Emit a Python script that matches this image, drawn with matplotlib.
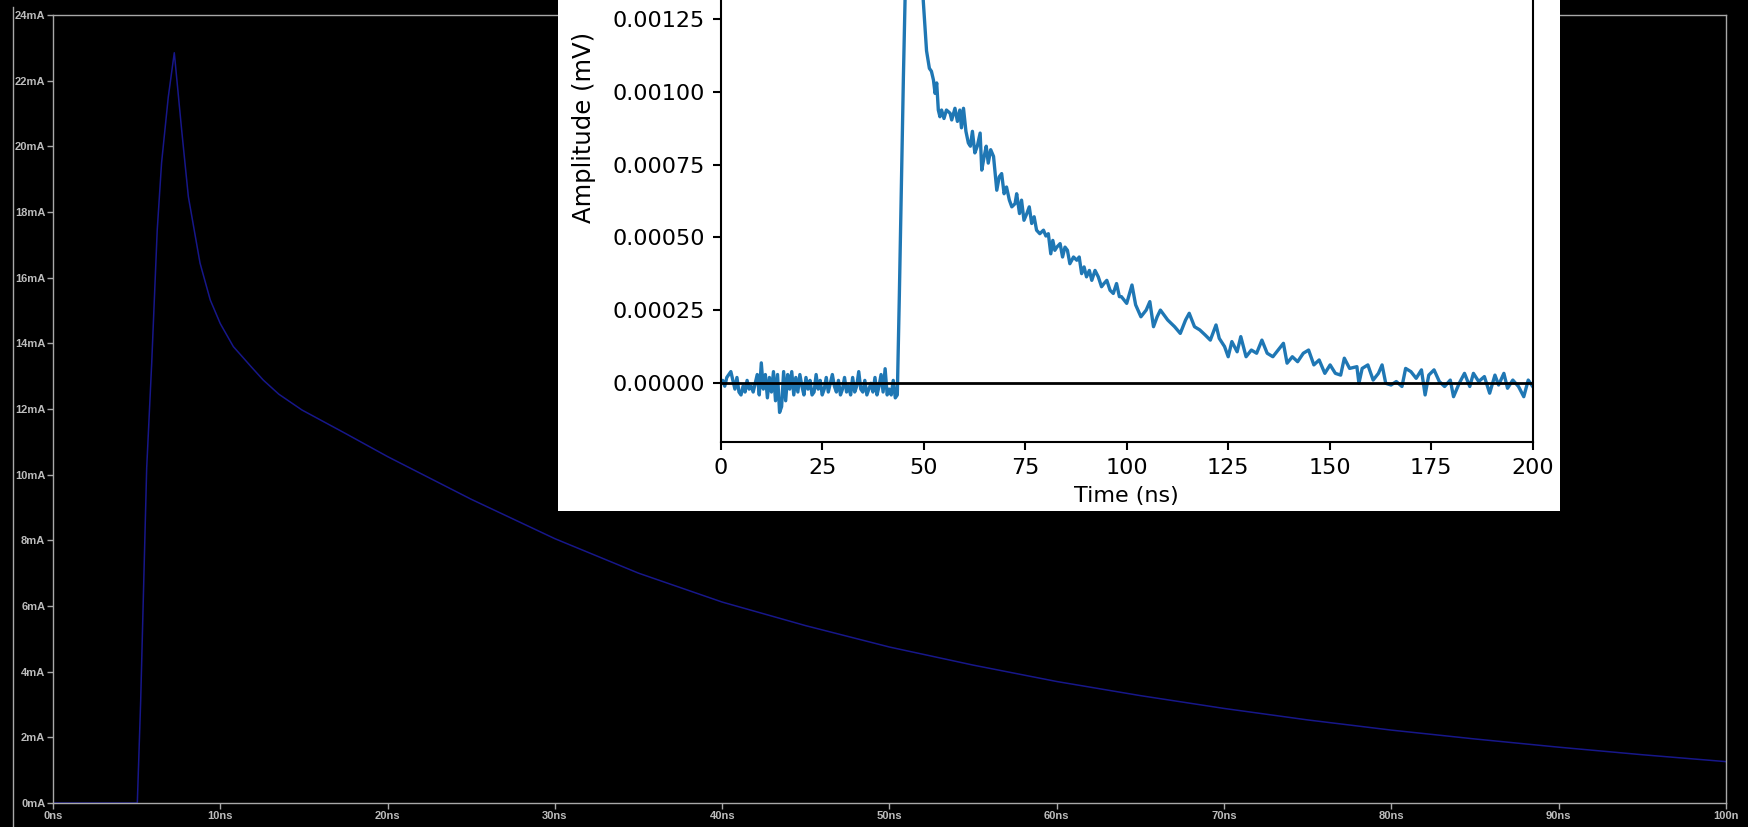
import numpy as np
import matplotlib
matplotlib.use("Agg")
import matplotlib.pyplot as plt
from matplotlib.patches import Rectangle
from matplotlib.lines import Line2D
from matplotlib.ticker import FormatStrFormatter

# simulated current pulse (LTspice style trace)
main_t = [0, 5.04, 5.24, 5.6, 5.9, 6.23, 6.49, 6.89, 7.25, 7.69, 8.09, 8.79, 9.4, 10.0,
          10.78, 11.84, 12.57, 13.5, 14.88, 17.5, 20, 25, 30, 35, 40, 45, 50, 55,
          60, 65, 70, 75, 80, 85, 90, 95, 100]
main_i = [0, 0, 3.1, 10.2, 13.4, 17.45, 19.5, 21.5, 22.85, 20.5, 18.47, 16.44, 15.32, 14.6,
          13.9, 13.29, 12.88, 12.45, 11.97, 11.25, 10.55, 9.25, 8.05, 7.0, 6.12, 5.4, 4.75, 4.2,
          3.7, 3.27, 2.88, 2.53, 2.22, 1.95, 1.7, 1.47, 1.26]
main_xticks = [0, 10, 20, 30, 40, 50, 60, 70, 80, 90, 100]
main_xlabels = ["0ns", "10ns", "20ns", "30ns", "40ns", "50ns", "60ns", "70ns", "80ns", "90ns", "100n"]
main_yticks = [0, 2, 4, 6, 8, 10, 12, 14, 16, 18, 20, 22, 24]
main_ylabels = ["0mA", "2mA", "4mA", "6mA", "8mA", "10mA", "12mA", "14mA", "16mA", "18mA",
                "20mA", "22mA", "24mA"]

# measured pulse (inset), amplitude in units of 1e-5 mV
inset_t = [0, 0.5, 1, 1.5, 2, 2.5, 3, 3.5, 4, 4.5, 5, 5.5, 6, 6.5, 7, 7.5, 8, 8.5, 9, 9.5,
           10, 10.5, 11, 11.5, 12, 12.5, 13, 13.5, 14, 14.5, 15, 15.5, 16, 16.5, 17, 17.5,
           18, 18.5, 19, 19.5, 20, 20.5, 21, 21.5, 22, 22.5, 23, 23.5, 24, 24.5, 25, 25.5,
           26, 26.5, 27, 27.5, 28, 28.5, 29, 29.5, 30, 30.5, 31, 31.5, 32, 32.5, 33, 33.5,
           34, 34.5, 35, 35.5, 36, 36.5, 37, 37.5, 38, 38.5, 39, 39.5, 40, 40.5, 41, 41.5,
           42, 42.5, 43, 43.5,
           44.0, 45.0, 46.0, 47.0, 47.5, 48.0, 49.0, 49.9,
           50.7, 51.4, 51.9, 52.4, 52.8, 53.2, 53.6, 54.0, 54.4, 55.0, 55.6, 56.5, 56.9,
           57.7, 58.3, 58.9, 59.3, 59.8, 60.4, 61.0, 61.5, 62.0, 62.6, 63.2, 63.9, 64.3,
           64.9, 65.4, 65.9, 66.5, 67.2, 67.6, 68.0, 68.6, 69.2, 69.8, 70.4, 71.1, 71.7,
           72.5, 72.9, 73.6, 74.1, 74.7, 75.4, 76.0, 76.6, 77.2, 77.8, 78.6, 79.5, 80.1,
           80.7, 81.3, 81.8, 82.3, 82.8, 83.6, 84.2, 84.8, 85.4, 86.0, 86.9, 87.7, 88.3,
           88.9, 89.5, 90.1, 90.8, 91.4, 92.2, 93.0, 93.8, 94.4, 95.1, 95.9, 96.7, 97.5,
           98.2,
           98.7, 100.0, 101.3, 102.2, 103.5, 104.8, 105.7, 106.6, 107.5, 108.3, 110.1,
           111.8, 113.2, 114.5, 115.4, 116.7, 118.0, 119.3, 120.6, 122.0, 122.8, 124.1,
           125.0, 125.9, 127.2, 128.1, 129.4, 130.7, 132.0, 133.3, 134.6, 136.0, 137.3,
           138.6, 139.5, 140.8, 142.1, 143.5, 144.8, 146.1, 147.4, 148.8, 150.1, 151.4,
           152.7, 153.6, 154.9, 156.7, 157.2, 158.0, 159.4, 160.7, 162.0, 162.9, 163.8,
           165.1, 166.4, 167.8, 168.7, 170.0, 171.3, 172.6, 173.5, 174.4, 175.7, 177.0,
           178.3, 179.7, 180.5, 181.9, 183.2, 184.5, 185.4, 186.7, 188.1, 189.4, 190.7,
           191.6, 192.9, 193.8, 195.1, 196.5, 197.8, 198.9, 200]
inset_v = [0, 1, -1, 2, 3, 4, 1, -2, 2, -3, -4, -1, -3, 1, -2, -1, -3, 0, 3, -4,
           7, -2, 3, -5, 2, -3, 4, -6, 3, -10, -8, 4, -6, 3, -2, 4,
           -4, 2, -3, 3, -1, -4, 2, -2, 1, -4, -3, 3, -2, 1, -4, -2,
           2, -3, 0, 3, -1, -3, 1, -4, -2, 2, -3, -1, -4, 2, -3, -1,
           4, -2, -3, 1, -4, -2, 0, -3, 2, -4, -1, 3, -3, 5, -4, -2,
           -4, 1, -5, -4,
           30, 105, 170, 215, 225, 210, 170, 131,
           114, 108, 107, 104, 99.4, 103, 93.7, 91.4, 93.7, 90.8, 93.7, 92.6, 90.3,
           94.3, 89.8, 93.7, 87.6, 94.3, 86.4, 82.4, 81.3, 86.4, 79.0, 81.3, 85.8, 73.1,
           77.8, 81.3, 75.5, 80.1, 77.8, 71.9, 66.2, 70.8, 71.9, 65.0, 67.3, 62.8, 60.5,
           61.6, 65.0, 58.2, 62.8, 55.9, 58.2, 60.5, 54.8, 57.1, 52.5, 51.3, 52.5, 50.5,
           51.3, 44.4, 49.0, 45.6, 46.7, 47.9, 43.3, 46.7, 45.6, 41.0, 43.3, 42.2, 43.3,
           37.6, 39.9, 36.5, 38.7, 35.3, 38.7, 36.5, 33.1, 34.2, 35.3, 31.9, 30.8, 34.2,
           29.7,
           29.7, 27.4, 33.7, 26.9, 22.8, 25.1, 28.0, 19.4, 22.8, 25.1, 21.7,
           19.4, 17.1, 21.7, 24.0, 19.4, 18.3, 16.6, 14.8, 20.0, 15.4, 12.6,
           9.1, 14.3, 10.8, 16.0, 9.1, 11.4, 10.3, 14.8, 10.3, 9.1, 11.4,
           13.7, 6.9, 9.1, 7.4, 10.3, 11.4, 6.3, 8.0, 3.4, 6.3, 3.4,
           2.8, 8.6, 5.1, 5.7, 0, 5.1, 6.3, 1.1, 3.4, 6.3, 0,
           -0.6, 0.6, -1.1, 5.1, 4.0, 1.7, 4.6, -4.0, 2.8, 4.6, 0.6,
           -1.1, 1.1, -4.6, 0, 3.4, -1.1, 3.4, 0.6, 2.3, -3.4, 2.8,
           -0.6, 3.4, -1.7, 1.1, -1.1, -4.6, 1.1, -1.1]
inset_v = np.array(inset_v) * 1e-5

fig = plt.figure(figsize=(17.48, 8.27), dpi=100, facecolor="black")

# main LTspice-like plot
grey = "#a8a8a8"
ax = fig.add_axes([0.03032, 0.02902, 0.95709, 0.95284])
ax.set_facecolor("black")
ax.plot(main_t, main_i, color="#17178a", lw=1.1)
ax.set_xlim(0, 100)
ax.set_ylim(0, 24)
ax.set_xticks(main_xticks)
ax.set_xticklabels(main_xlabels)
ax.set_yticks(main_yticks)
ax.set_yticklabels(main_ylabels)
for s in ax.spines.values():
    s.set_color(grey)
    s.set_linewidth(1.0)
ax.tick_params(colors=grey, length=4, width=1.0, pad=1.5, labelsize=8)
for tl in ax.get_xticklabels() + ax.get_yticklabels():
    tl.set_fontfamily("Liberation Sans")
    tl.set_fontweight("bold")
    tl.set_color("#bcbcbc")

# outer frame line at far left
fig.add_artist(Line2D([13 / 1748, 13 / 1748], [0, 1 - 7 / 827], transform=fig.transFigure,
                      color=grey, lw=1.0))

# white background of the pasted inset
fig.add_artist(Rectangle((558 / 1748, 1 - 511 / 827), 1002 / 1748, 511 / 827,
                         transform=fig.transFigure, facecolor="white", edgecolor="none", zorder=1))

ax2 = fig.add_axes([0.41230, 0.46602, 0.46453, 0.63471], zorder=2)
ax2.set_facecolor("white")
ax2.plot(inset_t, inset_v, color="#1f77b4", lw=2.4)
ax2.axhline(0, color="black", lw=2.0, zorder=3)
ax2.set_xlim(0, 200)
ax2.set_ylim(-0.0002, 0.0016)
ax2.set_xticks([0, 25, 50, 75, 100, 125, 150, 175, 200])
ax2.set_yticks([0, 0.00025, 0.0005, 0.00075, 0.001, 0.00125])
ax2.yaxis.set_major_formatter(FormatStrFormatter("%.5f"))
for s in ax2.spines.values():
    s.set_linewidth(1.5)
ax2.tick_params(length=5.5, width=1.5, labelsize=16, pad=6)
ax2.set_xlabel("Time (ns)", fontsize=16, labelpad=6)
ax2.set_ylabel("Amplitude (mV)", fontsize=17.5)
ax2.yaxis.set_label_coords(-0.153, 0.599)

plt.savefig("out.png", dpi=100, facecolor="black")
plt.close()
